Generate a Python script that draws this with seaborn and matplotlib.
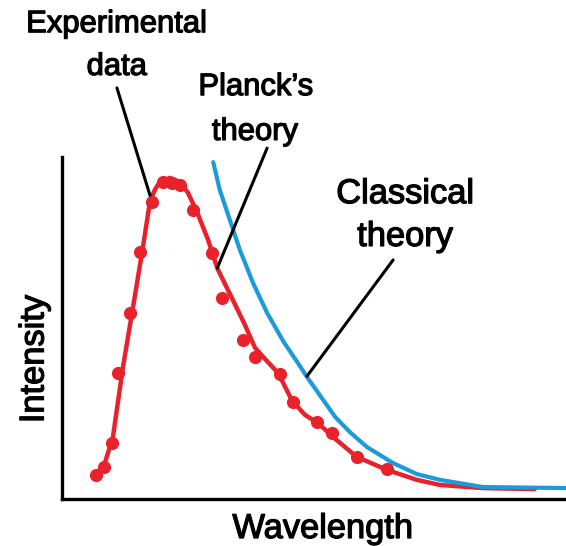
import matplotlib
matplotlib.use("Agg")
import matplotlib.pyplot as plt
import matplotlib.patheffects as pe
import seaborn as sns
import pandas as pd

# Measured spectrum (arbitrary units: wavelength 0-100, intensity 0-100)
exp_wavelength = [6.7, 8.3, 9.9, 11.1, 13.5, 15.5, 17.9, 20.0, 21.8, 23.4, 26.0,
                  29.8, 31.7, 35.9, 38.3, 43.3, 45.8, 50.6, 53.6, 58.5, 64.5]
exp_intensity = [7.0, 9.4, 16.4, 36.8, 54.4, 72.2, 86.8, 92.7, 92.4, 91.8, 84.5,
                 71.9, 58.8, 46.5, 41.5, 36.5, 28.4, 22.5, 19.3, 12.3, 8.8]

# Planck's radiation law
planck_wavelength = [6.7, 8.3, 10.1, 12.1, 13.9, 15.9, 17.5, 18.5, 19.4, 21.4,
                     23.4, 25.0, 26.8, 29.0, 30.8, 33.9, 36.3, 38.3, 40.5, 42.9,
                     45.6, 48.2, 50.8, 53.8, 58.5, 64.5, 70.4, 75.0, 83.5, 93.8]
planck_intensity = [6.7, 9.6, 18.1, 38.6, 54.4, 72.2, 87.4, 90.6, 92.7, 93.9,
                    92.7, 89.5, 83.9, 75.7, 67.5, 58.2, 50.9, 44.2, 40.6, 36.8,
                    28.9, 24.6, 22.2, 18.1, 12.3, 8.5, 5.6, 4.1, 3.2, 2.9]

# Classical (Rayleigh-Jeans) prediction
classical_wavelength = [30.0, 31.3, 33.3, 35.3, 37.9, 40.7, 44.0, 47.2, 48.6,
                        54.2, 57.1, 60.5, 65.7, 70.4, 75.0, 83.5, 100.0]
classical_intensity = [98.5, 90.4, 81.6, 72.8, 63.2, 54.4, 45.9, 38.9, 35.7,
                       24.0, 19.6, 15.2, 10.5, 7.3, 5.6, 3.5, 3.2]

RED = "#E8212B"
BLUE = "#1C9ADA"

sns.set_theme(style="white")
plt.rcParams["font.family"] = ["Liberation Sans", "DejaVu Sans"]

fig = plt.figure(figsize=(5.66, 5.46), dpi=100)
W, H = 566, 546
ax = fig.add_axes([62 / W, (H - 499) / H, (566 - 62) / W, (499 - 157) / H])

planck = pd.DataFrame({"wavelength": planck_wavelength, "intensity": planck_intensity})
classical = pd.DataFrame({"wavelength": classical_wavelength, "intensity": classical_intensity})
measured = pd.DataFrame({"wavelength": exp_wavelength, "intensity": exp_intensity})

sns.lineplot(data=planck, x="wavelength", y="intensity", ax=ax, color=RED,
             linewidth=3.2, sort=False, zorder=2)
sns.lineplot(data=classical, x="wavelength", y="intensity", ax=ax, color=BLUE,
             linewidth=3.0, sort=False, zorder=3)
sns.scatterplot(data=measured, x="wavelength", y="intensity", ax=ax, color=RED,
                s=90, linewidth=0, zorder=4)

ax.set_xlim(0, 100)
ax.set_ylim(0, 100)
ax.set_xticks([])
ax.set_yticks([])
for side in ("top", "right"):
    ax.spines[side].set_visible(False)
for side in ("left", "bottom"):
    ax.spines[side].set_color("black")
    ax.spines[side].set_linewidth(2.4)

# slightly heavier strokes for all lettering
heavy = [pe.withStroke(linewidth=0.9, foreground="black")]

small, large = 22.3, 24.8
ax.set_xlabel("Wavelength", fontsize=large, color="black", va="baseline",
              path_effects=heavy)
ax.xaxis.set_label_coords((323 - 62) / 504, (499 - 538) / 342)
ax.set_ylabel("Intensity", fontsize=large, color="black", va="center",
              ha="center", path_effects=heavy)
ax.yaxis.set_label_coords((35 - 62) / 504, (499 - 359) / 342)

labels = [
    ("Experimental", 10.9, 136.5, small),
    ("data", 10.9, 124.0, small),
    ("Planck\u2019s", 38.5, 118.1, small),
    ("theory", 38.3, 105.0, small),
    ("Classical", 68.1, 86.5, large),
    ("theory", 68.1, 74.0, large),
]
for txt, x, y, size in labels:
    ax.text(x, y, txt, fontsize=size, ha="center", va="baseline",
            color="black", clip_on=False, path_effects=heavy)

# leader lines from labels to their curves
leaders = [
    ((17.5, 88.6), (10.9, 120.2)),
    ((30.8, 67.5), (40.7, 102.6)),
    ((48.6, 35.9), (65.7, 69.9)),
]
for xy, xytext in leaders:
    ax.annotate("", xy=xy, xytext=xytext, annotation_clip=False,
                arrowprops=dict(arrowstyle="-", color="black", lw=2.2,
                                shrinkA=0, shrinkB=0))

fig.savefig("out.png", dpi=100)
